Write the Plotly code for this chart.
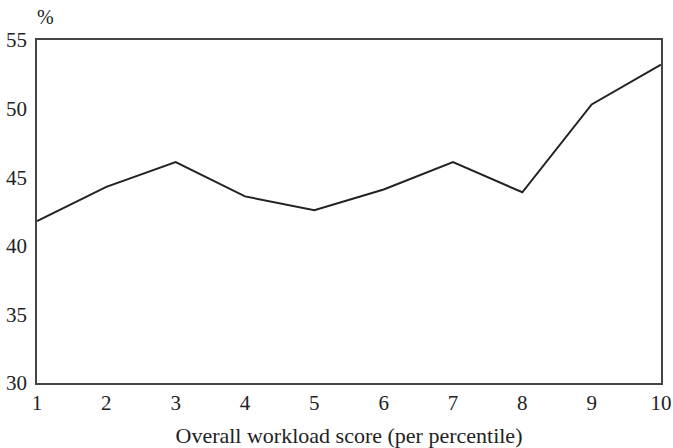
import plotly.graph_objects as go

x_vals = [1, 2, 3, 4, 5, 6, 7, 8, 9, 10]
y_vals = [41.8, 44.3, 46.1, 43.6, 42.6, 44.1, 46.1, 43.9, 50.3, 53.2]
y_ticks = [30, 35, 40, 45, 50, 55]
x_title = "Overall workload score (per percentile)"
y_unit = "%"

FONT = "Liberation Serif, Times New Roman, serif"

fig = go.Figure()
fig.add_trace(go.Scatter(x=x_vals, y=y_vals, mode="lines",
                         line=dict(color="#222222", width=2)))

fig.update_layout(
    width=673, height=448,
    margin=dict(l=37, r=12, t=40, b=65),
    paper_bgcolor="white", plot_bgcolor="white",
    showlegend=False,
    font=dict(family=FONT, size=21, color="#222222"),
    xaxis=dict(range=[1, 10], tickvals=x_vals, showgrid=False, zeroline=False,
               showline=True, linecolor="#444444", linewidth=1.5, mirror=True,
               ticks="", ticklen=0, automargin=False,
               tickfont=dict(family=FONT, size=21),
               title=dict(text=x_title, font=dict(family=FONT, size=22), standoff=15)),
    yaxis=dict(range=[30, 55], tickvals=y_ticks, showgrid=False, zeroline=False,
               showline=True, linecolor="#444444", linewidth=1.5, mirror=True,
               ticks="", ticklen=0, automargin=False, ticklabelstandoff=4,
               tickfont=dict(family=FONT, size=21)),
)
fig.add_annotation(text=y_unit, xref="paper", yref="paper", x=0.0136, y=1.0,
                   xanchor="center", yanchor="middle", yshift=23, showarrow=False,
                   font=dict(family=FONT, size=20, color="#222222"))

# remove the default page margin so the figure sits at the window's top-left corner
fig.write_html("out.html",
               config={"displayModeBar": False},
               post_script="document.body.style.margin='0';document.body.style.overflow='hidden';")
